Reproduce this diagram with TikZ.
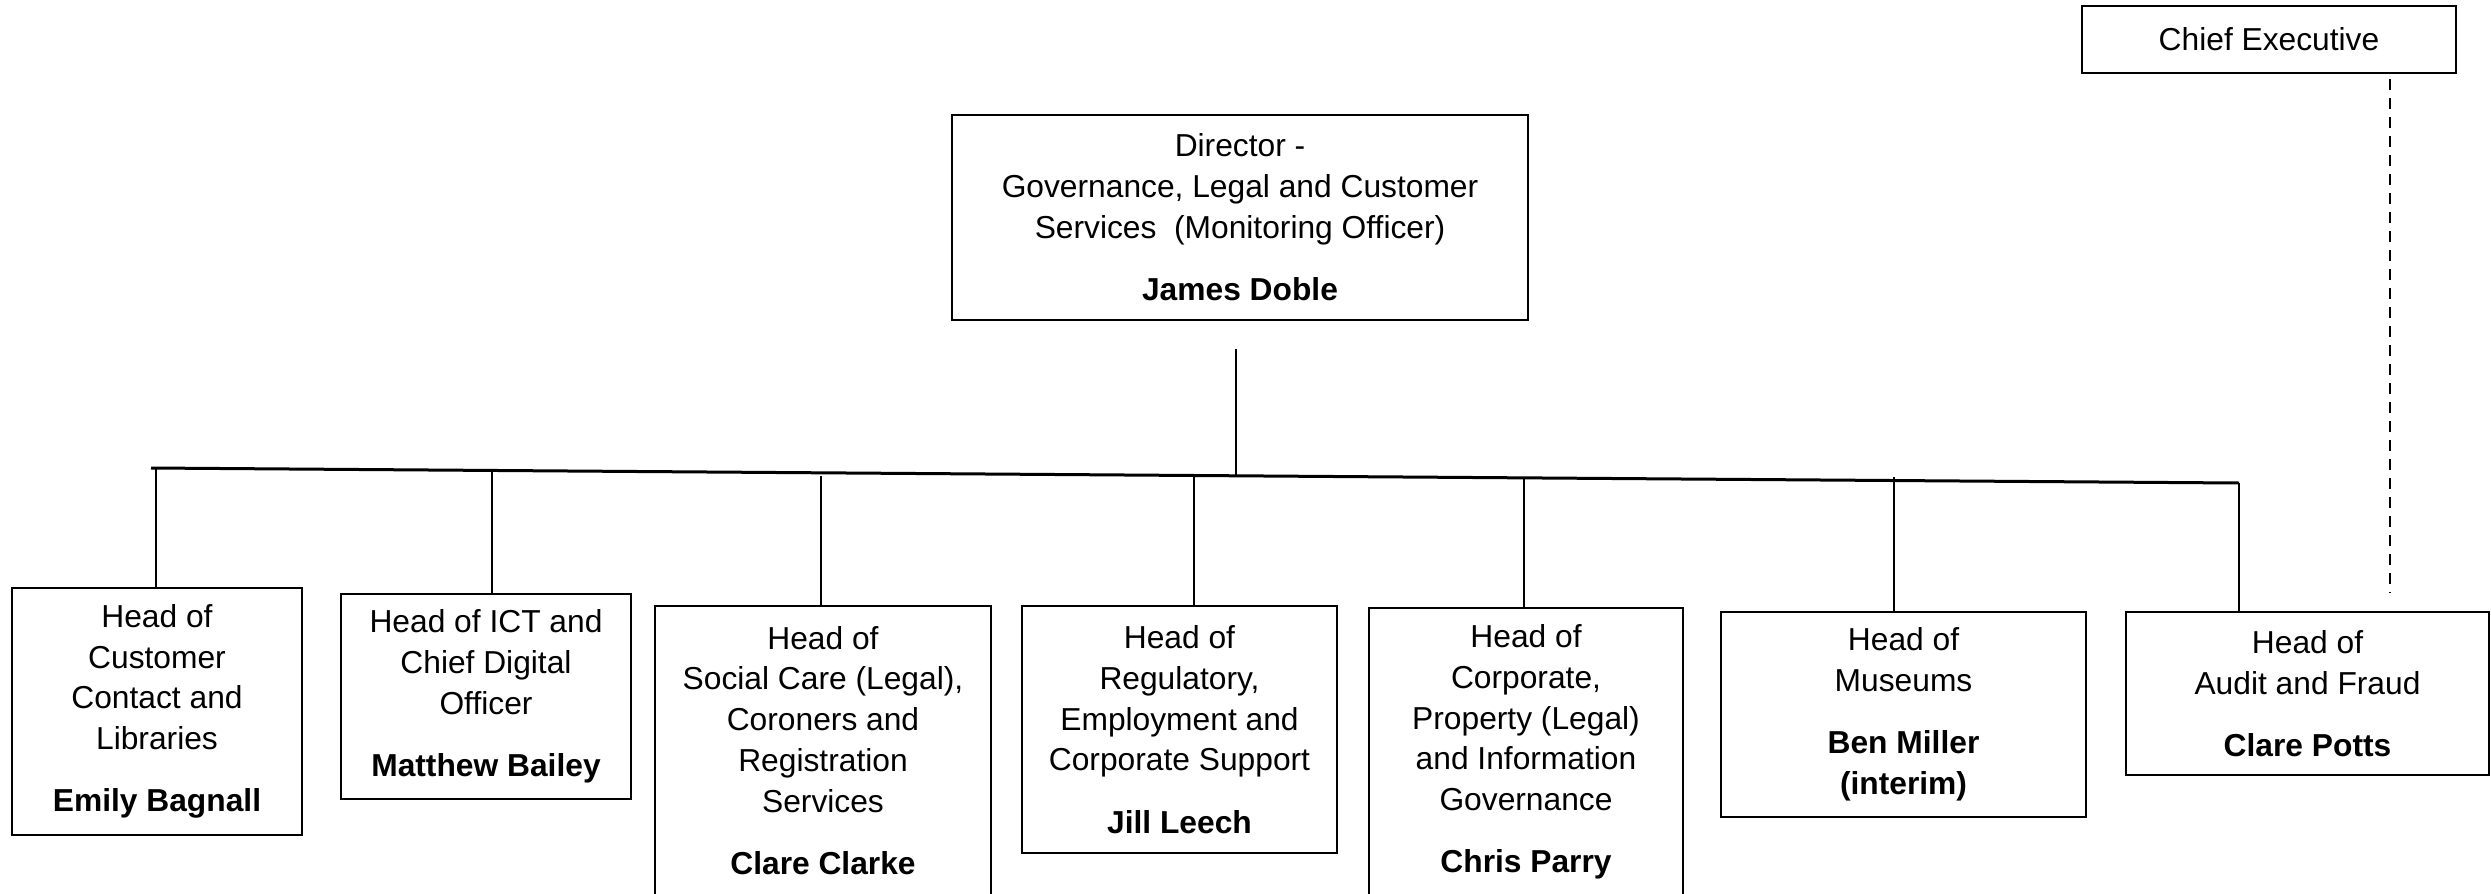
\documentclass[tikz,border=0pt]{standalone}
\usepackage{fontspec}
\setmainfont{Liberation Sans}
\usetikzlibrary{positioning}

\begin{document}
\begin{tikzpicture}[x=0.4pt, y=-0.4pt,
      box/.style={draw, line width=0.8pt, inner sep=0pt, align=center, anchor=north west, font=\fontsize{12.7pt}{16.3pt}\selectfont},
      ln/.style={line width=0.8pt},
      bus/.style={line width=1.2pt},
      dln/.style={line width=0.8pt, dash pattern=on 4.4pt off 3.2pt},
    ]
    \useasboundingbox (0,0) rectangle (2491,893);

    \node[box, minimum width=149.6pt, minimum height=26.8pt] (ceo) at (2081,5) {Chief Executive};
    \node[box, minimum width=230.4pt, minimum height=82pt] (dir) at (951,114) {Director -\\Governance, Legal and Customer\\Services\ \ (Monitoring Officer)\\[8.6pt]\textbf{James Doble}};

    \node[box, minimum width=116pt, minimum height=98.8pt] (cust) at (11,587) {Head of\\Customer\\Contact and\\Libraries\\[8.6pt]\textbf{Emily Bagnall}};
    \node[box, minimum width=116pt, minimum height=82pt] (ict) at (340,593) {Head of ICT and\\Chief Digital\\Officer\\[8.6pt]\textbf{Matthew Bailey}};
    \node[box, minimum width=134.4pt, minimum height=115.6pt] (social) at (654,605) {Head of\\Social Care (Legal),\\Coroners and\\Registration\\Services\\[8.6pt]\textbf{Clare Clarke}};
    \node[box, minimum width=126pt, minimum height=98.8pt] (reg) at (1021,605) {Head of\\Regulatory,\\Employment and\\Corporate Support\\[8.6pt]\textbf{Jill Leech}};
    \node[box, minimum width=125.6pt, minimum height=115.2pt] (corp) at (1368,607) {Head of\\Corporate,\\Property (Legal)\\and Information\\Governance\\[8.6pt]\textbf{Chris Parry}};
    \node[box, minimum width=146pt, minimum height=82pt] (mus) at (1720,611) {Head of\\Museums\\[8.6pt]\textbf{Ben Miller}\\\textbf{(interim)}};
    \node[box, minimum width=145.2pt, minimum height=65.2pt] (audit) at (2125,611) {Head of\\Audit and Fraud\\[8.6pt]\textbf{Clare Potts}};

    % bus line and taps
    \coordinate (busL) at (151,468);
    \coordinate (busR) at (2239,483);
    \coordinate (dirTop) at (1236,349);
    \coordinate (tapD) at (1236,476);
    \coordinate (tapA) at (156,468);
    \coordinate (tapB) at (492,472);
    \coordinate (tapC) at (821,476);
    \coordinate (tapE) at (1194,477);
    \coordinate (tapF) at (1524,479);
    \coordinate (tapG) at (1894,477);
    \coordinate (dashTop) at (2390,79);
    \coordinate (dashEnd) at (2390,593);

    \draw[bus] (busL) -- (busR);
    \draw[ln] (dirTop) -- (tapD);

    \draw[ln] (tapA) -- (tapA |- cust.north);
    \draw[ln] (tapB) -- (tapB |- ict.north);
    \draw[ln] (tapC) -- (tapC |- social.north);
    \draw[ln] (tapE) -- (tapE |- reg.north);
    \draw[ln] (tapF) -- (tapF |- corp.north);
    \draw[ln] (tapG) -- (tapG |- mus.north);
    \draw[ln] (busR) -- (busR |- audit.north);

    \draw[dln] (dashTop) -- (dashEnd);
  \end{tikzpicture}
\end{document}
